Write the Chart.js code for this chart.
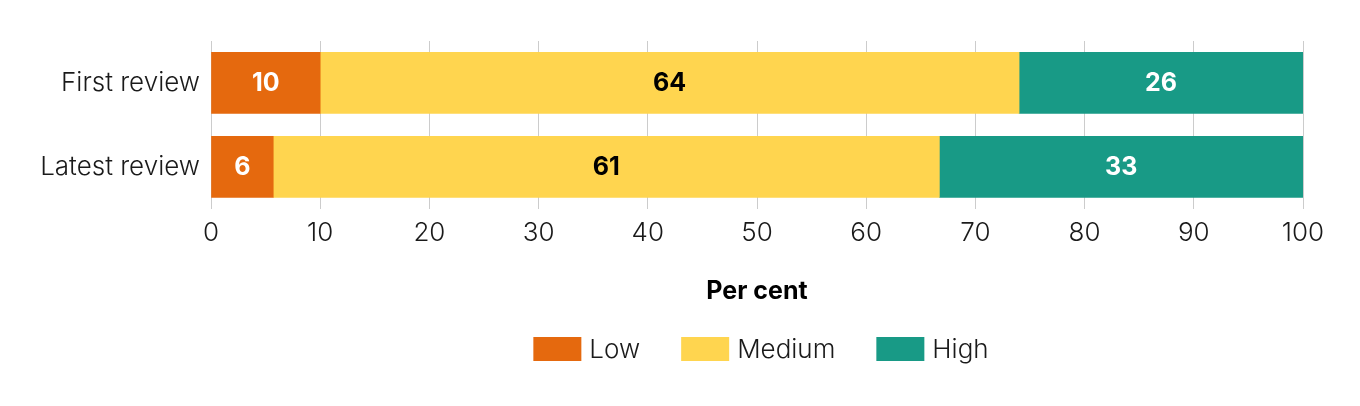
<!DOCTYPE html>
<html>
<head>
<meta charset="utf-8">
<script src="https://cdn.jsdelivr.net/npm/chart.js@4/dist/chart.umd.min.js"></script>
<style>
  html, body { margin: 0; padding: 0; background: #fff; }
  #wrap { width: 1360px; height: 406px; }
</style>
</head>
<body>
<div id="wrap"><canvas id="reviewChart" width="1360" height="406"></canvas></div>
<script>
// Share of ratings at first and latest review (per cent)
const categories = ["First review", "Latest review"];
const lowValues = [10, 5.7];
const mediumValues = [64, 61];
const highValues = [26, 33.3];
const xTicks = [0, 10, 20, 30, 40, 50, 60, 70, 80, 90, 100];

const FONT = "Inter, 'Noto Sans', sans-serif";

// write rounded values in the middle of each bar segment
const barLabels = {
    id: "barLabels",
    afterDatasetsDraw(chart) {
        const ctx = chart.ctx;
        ctx.save();
        ctx.font = "bold 25px " + FONT;
        ctx.textAlign = "center";
        ctx.textBaseline = "middle";
        chart.data.datasets.forEach((ds, i) => {
            const meta = chart.getDatasetMeta(i);
            meta.data.forEach((bar, j) => {
                ctx.fillStyle = ds.labelColor;
                ctx.fillText(Math.round(ds.data[j]), (bar.x + bar.base) / 2, bar.y + 1);
            });
        });
        ctx.restore();
    }
};

// legend drawn by hand so it can sit centred under the plot area
const bottomLegend = {
    id: "bottomLegend",
    afterDraw(chart) {
        const ctx = chart.ctx;
        const area = chart.chartArea;
        const boxW = 48, boxH = 24, gap = 8, spacing = 41, yMid = 349;
        ctx.save();
        ctx.font = "300 26px " + FONT;
        ctx.textBaseline = "middle";
        const items = chart.data.datasets.map(ds => ({
            text: ds.label,
            color: ds.backgroundColor,
            w: boxW + gap + ctx.measureText(ds.label).width
        }));
        const total = items.reduce((s, it) => s + it.w, 0) + spacing * (items.length - 1);
        let x = (area.left + area.right) / 2 - total / 2 + 4;
        items.forEach(it => {
            ctx.fillStyle = it.color;
            ctx.fillRect(x, yMid - boxH / 2, boxW, boxH);
            ctx.fillStyle = "#1a1a1a";
            ctx.fillText(it.text, x + boxW + gap, yMid + 1);
            x += it.w + spacing;
        });
        ctx.restore();
    }
};

new Chart(document.getElementById("reviewChart"), {
    type: "bar",
    data: {
        labels: categories,
        datasets: [
            { label: "Low", data: lowValues, backgroundColor: "#e5690e", labelColor: "#ffffff" },
            { label: "Medium", data: mediumValues, backgroundColor: "#ffd54f", labelColor: "#000000" },
            { label: "High", data: highValues, backgroundColor: "#189a86", labelColor: "#ffffff" }
        ]
    },
    options: {
        indexAxis: "y",
        responsive: false,
        animation: false,
        barThickness: 61,
        layout: { padding: { top: 41, right: 57, left: 0, bottom: 100 } },
        plugins: {
            legend: { display: false },
            tooltip: { enabled: false }
        },
        scales: {
            x: {
                stacked: true,
                min: 0,
                max: 100,
                afterBuildTicks(scale) {
                    scale.ticks = xTicks.map(v => ({ value: v }));
                },
                grid: { color: "#cccccc", drawTicks: false },
                border: { display: false },
                ticks: {
                    padding: 9,
                    color: "#1a1a1a",
                    font: { family: FONT, size: 26, weight: 300 }
                },
                title: {
                    display: true,
                    text: "Per cent",
                    color: "#000000",
                    font: { family: FONT, size: 25, weight: "bold" },
                    padding: { top: 18, bottom: 0 }
                }
            },
            y: {
                stacked: true,
                grid: { display: false, drawTicks: false },
                border: { display: true, color: "#cccccc", width: 1 },
                afterFit(scale) { scale.width = 211; },
                ticks: {
                    padding: 11,
                    color: "#1a1a1a",
                    font: { family: FONT, size: 26, weight: 300 }
                }
            }
        }
    },
    plugins: [barLabels, bottomLegend]
});
</script>
</body>
</html>
